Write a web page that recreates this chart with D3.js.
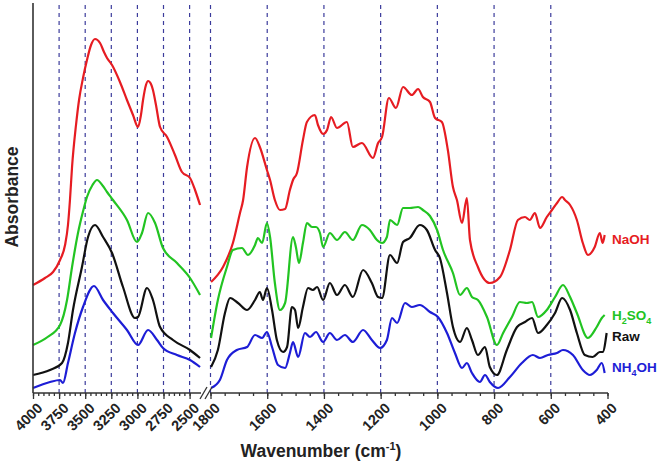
<!DOCTYPE html>
<html>
<head>
<meta charset="utf-8">
<script src="https://cdn.jsdelivr.net/npm/d3@7"></script>
<style>
  body { margin: 0; background: #fff; }
  text { font-family: Arial, "Liberation Sans", sans-serif; font-weight: bold; }
</style>
</head>
<body>
<svg id="chart" width="664" height="465"></svg>
<script>
// tick labels of the two axis pieces (broken axis)
var leftTicks = [4000, 3750, 3500, 3250, 3000, 2750, 2500];
var rightTicks = [1800, 1600, 1400, 1200, 1000, 800, 600, 400];

// spectra, [wavenumber, absorbance (a.u., offset)]
var naohLeft = [[4000,108],[3885,115],[3808,121],[3741,133],[3693,148],[3665,168],[3646,193],[3626,226],[3588,268],[3559,293],[3521,315],[3483,333],[3444,348],[3406,354],[3358,350],[3320,341],[3291,335],[3243,328],[3167,311],[3100,293],[3042,278],[2994,266],[2966,278],[2946,293],[2918,308],[2898,312],[2870,309],[2851,303],[2822,288],[2783,266],[2716,256],[2640,238],[2573,221],[2496,215],[2448,203],[2400,188]];
var h2so4Left = [[4000,48],[3860,56],[3741,68],[3674,93],[3626,126],[3569,160],[3520,182],[3483,196],[3430,208],[3387,213],[3330,207],[3291,201],[3234,193],[3100,173],[3004,151],[2956,160],[2898,180],[2831,170],[2755,145],[2621,130],[2496,115],[2400,98]];
var rawLeft = [[4000,18],[3837,23],[3722,30],[3665,50],[3617,83],[3531,126],[3473,156],[3406,168],[3329,156],[3243,140],[3138,106],[3023,75],[2994,76],[2908,105],[2851,93],[2783,66],[2659,53],[2496,43],[2400,35]];
var nh4ohLeft = [[4000,5],[3837,11],[3741,13],[3713,10],[3665,30],[3598,60],[3521,86],[3416,107],[3329,93],[3234,80],[3100,63],[2994,48],[2898,63],[2812,53],[2755,45],[2621,38],[2496,33],[2400,26]];

var naohRight = [[1798,111],[1756,126],[1721,150],[1696,180],[1685,193],[1671,226],[1643,255],[1626,246],[1601,223],[1590,213],[1573,193],[1555,183],[1537,184],[1520,203],[1509,213],[1495,220],[1474,253],[1460,271],[1432,278],[1421,268],[1403,259],[1389,263],[1375,276],[1354,265],[1319,271],[1298,246],[1266,250],[1227,235],[1209,250],[1195,256],[1171,295],[1146,285],[1121,306],[1090,298],[1068,304],[1051,296],[1026,291],[1008,275],[984,271],[963,243],[945,206],[931,193],[913,170],[896,195],[885,153],[857,126],[815,110],[779,116],[744,143],[716,173],[691,176],[674,173],[656,180],[638,165],[614,176],[596,183],[578,190],[560,196],[550,193],[532,188],[508,173],[487,150],[469,138],[445,146],[427,160],[417,150],[410,158]];
var h2so4Right = [[1798,55],[1774,93],[1742,126],[1721,143],[1689,145],[1668,138],[1643,148],[1633,155],[1618,150],[1601,170],[1590,156],[1573,110],[1555,83],[1537,90],[1509,156],[1499,146],[1488,130],[1474,150],[1460,170],[1442,166],[1428,166],[1414,160],[1403,146],[1379,160],[1354,153],[1326,161],[1298,153],[1266,168],[1238,163],[1213,153],[1195,150],[1178,156],[1167,173],[1142,168],[1121,185],[1097,185],[1068,186],[1051,183],[1026,177],[1001,163],[980,143],[945,120],[920,98],[896,105],[878,96],[857,93],[825,76],[790,48],[768,60],[737,76],[709,91],[684,90],[666,91],[645,76],[614,83],[585,96],[557,108],[532,96],[508,80],[469,55],[438,66],[420,75],[410,78]];
var rawRight = [[1798,26],[1774,43],[1749,80],[1731,95],[1703,90],[1671,83],[1643,93],[1626,101],[1615,93],[1601,105],[1583,83],[1566,53],[1544,41],[1530,46],[1513,86],[1502,83],[1491,65],[1474,86],[1456,105],[1439,103],[1424,106],[1403,93],[1379,110],[1354,98],[1326,108],[1298,96],[1262,123],[1231,110],[1209,96],[1195,95],[1167,138],[1142,130],[1121,151],[1097,155],[1062,168],[1037,163],[1008,143],[991,135],[966,100],[945,66],[920,51],[896,65],[878,53],[857,38],[832,46],[815,26],[790,18],[755,43],[719,66],[691,71],[666,75],[645,60],[614,68],[585,80],[560,95],[532,83],[508,60],[480,38],[452,36],[427,41],[417,41],[403,60]];
var nh4ohRight = [[1798,5],[1767,13],[1742,33],[1707,43],[1671,46],[1643,58],[1618,55],[1601,61],[1583,46],[1562,28],[1537,25],[1520,40],[1509,51],[1491,36],[1467,60],[1449,56],[1428,61],[1403,51],[1379,60],[1354,53],[1326,58],[1298,51],[1262,63],[1231,53],[1202,45],[1178,53],[1160,75],[1142,70],[1114,90],[1090,86],[1062,88],[1026,81],[998,76],[966,60],[938,40],[913,25],[896,30],[878,20],[850,11],[832,18],[815,11],[786,5],[744,16],[702,30],[663,38],[638,35],[610,38],[578,40],[557,43],[522,38],[487,23],[462,18],[438,23],[420,30],[410,20]];

var svg = d3.select("#chart");
svg.append("rect").attr("width", 664).attr("height", 465).attr("fill", "#fff");

var axisY = 393;
var xL = d3.scaleLinear().domain([4000, 2500]).range([33, 189.6]);
var xR = d3.scaleLinear().domain([1800, 400]).range([210.5, 607.5]);
var y = d3.scaleLinear().domain([0, 390]).range([axisY, 3]);

// dashed grid lines at the major ticks
var grid = svg.append("g");
leftTicks.slice(1).forEach(function (d) {
  grid.append("line").attr("x1", xL(d)).attr("x2", xL(d)).attr("y1", 5).attr("y2", axisY);
});
rightTicks.slice(0, -1).forEach(function (d) {
  grid.append("line").attr("x1", xR(d)).attr("x2", xR(d)).attr("y1", 5).attr("y2", axisY);
});
grid.selectAll("line").attr("stroke", "#3c3c9c").attr("stroke-width", 1.2).attr("stroke-dasharray", "4,4");

// spectra
var series = [
  { left: naohLeft, right: naohRight, color: "#e61c22" },
  { left: h2so4Left, right: h2so4Right, color: "#22c422" },
  { left: rawLeft, right: rawRight, color: "#111111" },
  { left: nh4ohLeft, right: nh4ohRight, color: "#1d1dd6" }
];
var lineL = d3.line().x(function (d) { return xL(d[0]); }).y(function (d) { return y(d[1]); }).curve(d3.curveMonotoneX);
var lineR = d3.line().x(function (d) { return xR(d[0]); }).y(function (d) { return y(d[1]); }).curve(d3.curveMonotoneX);
series.forEach(function (s) {
  svg.append("path").attr("d", lineL(s.left)).attr("fill", "none").attr("stroke", s.color).attr("stroke-width", 2.2).attr("stroke-linejoin", "round");
  svg.append("path").attr("d", lineR(s.right)).attr("fill", "none").attr("stroke", s.color).attr("stroke-width", 2.2).attr("stroke-linejoin", "round");
});

// axes
var axisColor = "#333";
svg.append("line").attr("x1", 33).attr("x2", 33).attr("y1", 3).attr("y2", axisY).attr("stroke", axisColor).attr("stroke-width", 1.6);
svg.append("line").attr("x1", 33).attr("x2", 201).attr("y1", axisY).attr("y2", axisY).attr("stroke", axisColor).attr("stroke-width", 1.6);
svg.append("line").attr("x1", 210).attr("x2", 608).attr("y1", axisY).attr("y2", axisY).attr("stroke", axisColor).attr("stroke-width", 1.6);
// break marks
svg.append("line").attr("x1", 200).attr("y1", 399).attr("x2", 207).attr("y2", 387).attr("stroke", axisColor).attr("stroke-width", 1.3);
svg.append("line").attr("x1", 205).attr("y1", 399).attr("x2", 212).attr("y2", 387).attr("stroke", axisColor).attr("stroke-width", 1.3);

function addAxis(scale, major, minor) {
  var gMinor = svg.append("g").attr("transform", "translate(0," + axisY + ")")
    .call(d3.axisBottom(scale).tickValues(minor).tickSize(3).tickFormat(""));
  var gMajor = svg.append("g").attr("transform", "translate(0," + axisY + ")")
    .call(d3.axisBottom(scale).tickValues(major).tickSize(6).tickFormat(d3.format("d")));
  [gMinor, gMajor].forEach(function (g) {
    g.select(".domain").remove();
    g.selectAll(".tick line").attr("stroke", axisColor).attr("stroke-width", 1.3);
  });
  gMajor.selectAll(".tick text")
    .attr("y", 0).attr("dy", 0)
    .attr("font-size", 14.5).attr("fill", "#222")
    .attr("text-anchor", "end")
    .attr("transform", "translate(10,16) rotate(-45)");
}
addAxis(xL, leftTicks, d3.range(4000, 2499, -50));
addAxis(xR, rightTicks, d3.range(1800, 399, -50));

// titles
var xt = svg.append("text").attr("x", 321).attr("y", 457).attr("text-anchor", "middle").attr("font-size", 17.5).attr("fill", "#222");
xt.append("tspan").text("Wavenumber (cm");
xt.append("tspan").attr("dy", -7).attr("font-size", 11).text("-1");
xt.append("tspan").attr("dy", 7).text(")");
svg.append("text").attr("transform", "translate(18,197) rotate(-90)").attr("text-anchor", "middle").attr("font-size", 17.5).attr("fill", "#222").text("Absorbance");

// series labels
function label(yPos, color, parts) {
  var t = svg.append("text").attr("x", 612).attr("y", yPos).attr("font-size", 13.5).attr("fill", color);
  parts.forEach(function (p) {
    if (p.sub) {
      t.append("tspan").attr("dy", 4).attr("font-size", 9).text(p.text);
    } else {
      t.append("tspan").attr("dy", p.after ? -4 : 0).text(p.text);
    }
  });
}
label(244, "#e61c22", [{ text: "NaOH" }]);
label(320, "#22c422", [{ text: "H" }, { text: "2", sub: true }, { text: "SO", after: true }, { text: "4", sub: true }]);
label(341, "#111", [{ text: "Raw" }]);
label(372, "#1d1dd6", [{ text: "NH" }, { text: "4", sub: true }, { text: "OH", after: true }]);
</script>
</body>
</html>
